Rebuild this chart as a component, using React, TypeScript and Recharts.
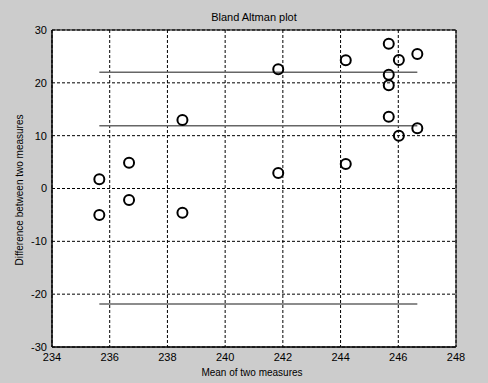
import React from 'react';
import {
  ScatterChart,
  Scatter,
  XAxis,
  YAxis,
  CartesianGrid,
  ReferenceLine,
  ReferenceArea,
} from 'recharts';

const meanValues = [
  235.64, 235.64, 236.67, 236.67, 238.52, 238.52, 241.84, 241.84, 244.18, 244.18,
  245.67, 246.02, 246.66, 245.67, 245.67, 245.67, 246.66, 246.02,
];
const diffValues = [
  1.74, -5.0, 4.88, -2.18, -4.58, 12.97, 22.56, 2.93, 24.27, 4.64,
  27.41, 24.32, 25.46, 21.54, 19.53, 13.59, 11.39, 9.99,
];

const xTicks = [234, 236, 238, 240, 242, 244, 246, 248];
const yTicks = [-30, -20, -10, 0, 10, 20, 30];

const upperLimit = 22.01;
const meanDiff = 11.89;
const lowerLimit = -21.86;

const titleText = 'Bland Altman plot';
const xLabelText = 'Mean of two measures';
const yLabelText = 'Difference between two measures';

const data = meanValues.map((x, i) => ({ x, y: diffValues[i] }));
const minMean = Math.min(...meanValues);
const maxMean = Math.max(...meanValues);

const FONT = '"Liberation Sans", Arial, sans-serif';

const CircleMarker = (props: any) => {
  const { cx, cy } = props;
  if (cx == null || cy == null) return null;
  return <circle cx={cx} cy={cy} r={5} fill="none" stroke="#000" strokeWidth={2} />;
};

export default function App() {
  return (
    <div
      style={{
        position: 'absolute',
        left: 0,
        top: 0,
        width: 488,
        height: 383,
        background: '#cccccc',
        fontFamily: FONT,
        overflow: 'hidden',
      }}
    >
      <ScatterChart
        width={488}
        height={383}
        margin={{ top: 30, right: 32, bottom: 0, left: 0 }}
        style={{ position: 'absolute', left: 0, top: 0 }}
      >
        <CartesianGrid
          fill="#ffffff"
          stroke="#000"
          strokeDasharray="3 2"
          horizontalValues={yTicks}
          verticalValues={xTicks}
        />
        <XAxis
          type="number"
          dataKey="x"
          domain={[234, 248]}
          ticks={xTicks}
          allowDataOverflow
          height={36}
          tickSize={4}
          tickMargin={2}
          tickLine={false}
          axisLine={{ stroke: '#000' }}
          tick={{ fill: '#000', fontSize: 11, fontFamily: FONT }}
        />
        <YAxis
          type="number"
          dataKey="y"
          domain={[-30, 30]}
          ticks={yTicks}
          allowDataOverflow
          width={52}
          tickSize={3}
          tickMargin={2}
          tickLine={false}
          axisLine={{ stroke: '#000' }}
          tick={{ fill: '#000', fontSize: 11, fontFamily: FONT }}
        />
        <ReferenceLine
          segment={[{ x: minMean, y: upperLimit }, { x: maxMean, y: upperLimit }]}
          stroke="#666"
          strokeWidth={1.5}
        />
        <ReferenceLine
          segment={[{ x: minMean, y: meanDiff }, { x: maxMean, y: meanDiff }]}
          stroke="#666"
          strokeWidth={1.5}
        />
        <ReferenceLine
          segment={[{ x: minMean, y: lowerLimit }, { x: maxMean, y: lowerLimit }]}
          stroke="#666"
          strokeWidth={1.5}
        />
        <ReferenceArea
          x1={234}
          x2={248}
          y1={-30}
          y2={30}
          fill="none"
          fillOpacity={0}
          stroke="#000"
          strokeWidth={1}
          strokeOpacity={1}
          ifOverflow="visible"
        />
        <Scatter data={data} shape={CircleMarker} isAnimationActive={false} />
      </ScatterChart>
      <div
        style={{
          position: 'absolute',
          left: 154,
          top: 12,
          width: 200,
          textAlign: 'center',
          fontSize: 11,
          lineHeight: '11px',
          color: '#000',
          whiteSpace: 'nowrap',
        }}
      >
        {titleText}
      </div>
      <div
        style={{
          position: 'absolute',
          left: 152,
          top: 367.5,
          width: 200,
          textAlign: 'center',
          fontSize: 10,
          lineHeight: '10px',
          color: '#000',
          whiteSpace: 'nowrap',
        }}
      >
        {xLabelText}
      </div>
      <div
        style={{
          position: 'absolute',
          left: 20 - 100,
          top: 190 - 5,
          width: 200,
          height: 10,
          textAlign: 'center',
          fontSize: 10,
          lineHeight: '10px',
          color: '#000',
          whiteSpace: 'nowrap',
          transform: 'rotate(-90deg)',
          transformOrigin: '100px 5px',
        }}
      >
        {yLabelText}
      </div>
    </div>
  );
}
